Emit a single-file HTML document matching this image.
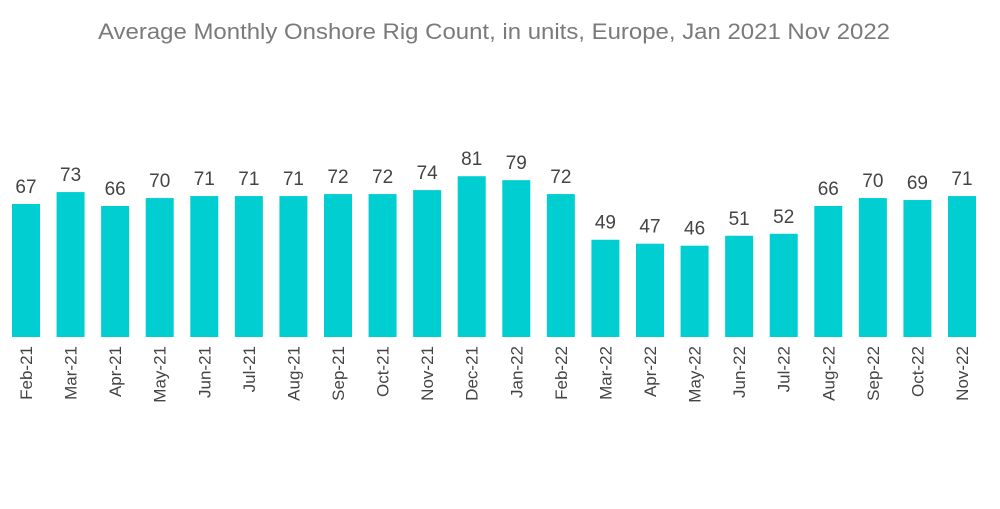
<!DOCTYPE html>
<html><head><meta charset="utf-8"><style>
body{margin:0;background:#fff}
svg text{font-family:"Liberation Sans",sans-serif}
</style></head><body>
<svg id="chart" width="1000" height="504" xmlns="http://www.w3.org/2000/svg">
<text x="98" y="39" textLength="792" lengthAdjust="spacingAndGlyphs" font-size="22" fill="#7a7a7a">Average Monthly Onshore Rig Count, in units, Europe, Jan 2021  Nov 2022</text>
<g id="bars"></g>
</svg>
<script>
const categories=["Feb-21","Mar-21","Apr-21","May-21","Jun-21","Jul-21","Aug-21","Sep-21","Oct-21","Nov-21","Dec-21","Jan-22","Feb-22","Mar-22","Apr-22","May-22","Jun-22","Jul-22","Aug-22","Sep-22","Oct-22","Nov-22"];
const values=[67,73,66,70,71,71,71,72,72,74,81,79,72,49,47,46,51,52,66,70,69,71];
const NS="http://www.w3.org/2000/svg";
const g=document.getElementById('bars');
const baseY=337, scale=1.985, x0=12, pitch=(948-12)/21, bw=28;
function xPos(i){return x0+i*pitch;}
function yPos(v){return baseY-v*scale;}
categories.forEach((c,i)=>{
  const v=values[i];
  const r=document.createElementNS(NS,'rect');
  
  
  r.setAttribute('x',xPos(i));r.setAttribute('y',yPos(v));
  r.setAttribute('width',bw);r.setAttribute('height',baseY-yPos(v));
  r.setAttribute('fill','#00ced1');
  g.appendChild(r);
  const t=document.createElementNS(NS,'text');
  
  
  t.setAttribute('x',xPos(i)+bw/2);t.setAttribute('y',yPos(v)-11);
  t.setAttribute('text-anchor','middle');t.setAttribute('font-size','19');t.setAttribute('fill','#444');
  t.textContent=v;g.appendChild(t);
  const l=document.createElementNS(NS,'text');
  
  
  const lx=xPos(i)+bw/2+6, ly=346;
  l.setAttribute('transform','translate('+lx+','+ly+') rotate(-90)');
  l.setAttribute('text-anchor','end');l.setAttribute('font-size','17');l.setAttribute('fill','#444');
  l.textContent=c;g.appendChild(l);
});
</script>
</body></html>
